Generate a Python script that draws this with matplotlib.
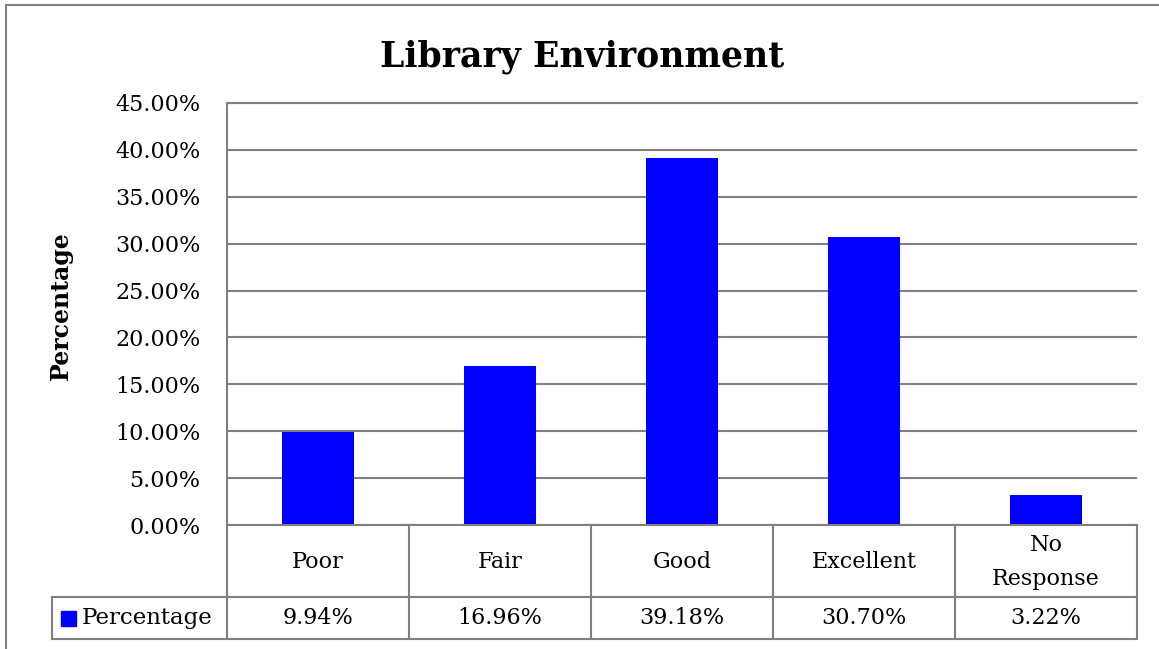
import numpy as np
import matplotlib.pyplot as plt
from matplotlib.lines import Line2D
from matplotlib.patches import Rectangle

# survey results
categories = ["Poor", "Fair", "Good", "Excellent", "No\nResponse"]
percentages = [9.94, 16.96, 39.18, 30.70, 3.22]
series_name = "Percentage"
y_ticks = [0, 5, 10, 15, 20, 25, 30, 35, 40, 45]

BLUE = "#0000FF"
GRID = "#808080"
FONT = "DejaVu Serif"

W, H = 1159, 649
fig = plt.figure(figsize=(W / 100, H / 100), dpi=100)
plt.rcParams["font.family"] = FONT


def fx(px):
    return px / W


def fy(py):
    return 1 - py / H


ax_l, ax_r, ax_t, ax_b = 227, 1137, 103, 525
ax = fig.add_axes([fx(ax_l), fy(ax_b), fx(ax_r - ax_l), fy(ax_t) - fy(ax_b)])

x = np.arange(len(categories))
ax.bar(x, percentages, width=0.4, color=BLUE, zorder=3)
ax.set_xlim(-0.5, len(categories) - 0.5)
ax.set_ylim(0, 45)
ax.set_yticks(y_ticks)
ax.set_yticklabels([f"{t:.2f}%" for t in y_ticks], fontsize=16)
ax.set_xticks([])
ax.tick_params(axis="y", length=0, pad=19)
ax.yaxis.grid(True, color=GRID, linewidth=1.5, zorder=0)
for side in ["right", "bottom"]:
    ax.spines[side].set_visible(False)
for side in ["left", "top"]:
    ax.spines[side].set_color(GRID)
    ax.spines[side].set_linewidth(1.5)

fig.text(fx(61), fy(306), "Percentage", rotation=90, ha="center", va="center",
         fontsize=17, fontweight="bold")
fig.text(fx(582), fy(57), "Library Environment", ha="center", va="center",
         fontsize=25, fontweight="bold")

# data table below the plot
n = len(categories)
row1 = 597  # bottom of category row (px)
row2 = 639  # bottom of value row (px)
col_edges = [ax_l + (ax_r - ax_l) * i / n for i in range(n + 1)]
lw = 1.5


def hline(x0, x1, y):
    fig.add_artist(Line2D([fx(x0), fx(x1)], [fy(y), fy(y)], color=GRID, lw=lw))


def vline(xp, y0, y1):
    fig.add_artist(Line2D([fx(xp), fx(xp)], [fy(y0), fy(y1)], color=GRID, lw=lw))


leg_l = 52
hline(ax_l, ax_r, ax_b)
hline(leg_l, ax_r, row1)
hline(leg_l, ax_r, row2)
vline(leg_l, row1, row2)
for xe in col_edges:
    vline(xe, ax_b, row2)

for i, (cat, val) in enumerate(zip(categories, percentages)):
    cx = (col_edges[i] + col_edges[i + 1]) / 2
    fig.text(fx(cx), fy((ax_b + row1) / 2 + 1), cat, ha="center", va="center",
             fontsize=16, linespacing=1.65)
    fig.text(fx(cx), fy((row1 + row2) / 2), f"{val:.2f}%", ha="center",
             va="center", fontsize=16)

# legend key inside the table
fig.add_artist(Rectangle((fx(61), fy(626)), fx(15), fy(611) - fy(626),
                         color=BLUE))
fig.text(fx(82), fy((row1 + row2) / 2), series_name, ha="left", va="center",
         fontsize=16.5)

# chart frame
fig.add_artist(Rectangle((fx(6), fy(H + 10)), fx(W + 10), fy(5) - fy(H + 10),
                         fill=False, edgecolor=GRID, lw=1.5))

fig.savefig("out.png", dpi=100)
